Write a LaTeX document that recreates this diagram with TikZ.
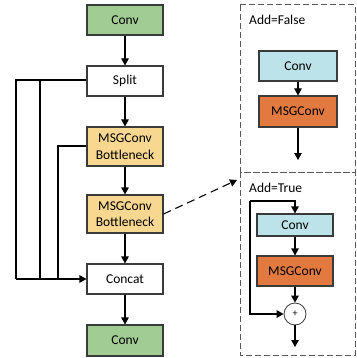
\documentclass[tikz,border=0pt]{standalone}
\usepackage{fontspec}
\setmainfont{Carlito}
\usetikzlibrary{arrows.meta}
\definecolor{cgreen}{HTML}{A1CC94}
\definecolor{cyellow}{HTML}{F8D891}
\definecolor{cblue}{HTML}{BDE3EA}
\definecolor{corange}{HTML}{E27A40}
\definecolor{cborder}{HTML}{3A3A3A}
\begin{document}
\begin{tikzpicture}[x=1pt,y=-1pt,
  box/.style={draw=cborder,line width=1.1pt,minimum width=76pt,inner sep=0pt,align=center,
    font=\fontsize{13.5}{16.5}\selectfont},
  arr/.style={line width=1.1pt,-{Triangle[length=7pt,width=7.5pt]}},
  ln/.style={line width=1.1pt},
  dbox/.style={draw=black!65,line width=1pt,dash pattern=on 6pt off 3pt},
  lbl/.style={anchor=west,inner sep=0pt,font=\fontsize{13.5}{16.5}\selectfont}]
\useasboundingbox (0,0) rectangle (356,358);
% left column
\node[box,fill=cgreen,minimum height=30pt] (conv1) at (125,20) {Conv};
\node[box,fill=white,minimum height=30pt] (split) at (125,81) {Split};
\node[box,fill=cyellow,minimum height=39pt] (bn1) at (125,146.5) {MSGConv\\Bottleneck};
\node[box,fill=cyellow,minimum height=38pt] (bn2) at (125,214) {MSGConv\\Bottleneck};
\node[box,fill=white,minimum height=30pt] (concat) at (125,279) {Concat};
\node[box,fill=cgreen,minimum height=31pt] (conv2) at (125,340.5) {Conv};
\draw[arr] (conv1) -- (split);
\draw[arr] (split) -- (bn1);
\draw[arr] (bn1) -- (bn2);
\draw[arr] (bn2) -- (concat);
\draw[arr] (concat) -- (conv2);
\coordinate (sA) at (16,80);
\coordinate (sB) at (40,80);
\coordinate (sC) at (58,146);
\draw[ln] (split.west |- sA) -- (sA) -- (sA |- concat.west);
\draw[ln] (sB) -- (sB |- concat.west);
\draw[ln] (bn1.west |- sC) -- (sC) -- (sC |- concat.west);
\draw[arr] (sA |- concat.west) -- (concat.west);
% dashed boxes
\draw[dbox] (240,5) rectangle (355,172);
\draw[dbox] (240,172) rectangle (355,355);
\node[lbl] (lf) at (249,20) {Add=False};
\node[lbl] (lt) at (249,188) {Add=True};
% box 1
\node[box,fill=cblue,minimum width=78pt,minimum height=30pt] (ca) at (298,66) {Conv};
\node[box,fill=corange,minimum width=78pt,minimum height=31pt] (ma) at (298,111.5) {MSGConv};
\coordinate (ea) at (298,160);
\draw[arr] (ca) -- (ma);
\draw[arr] (ma) -- (ea);
% box 2
\node[box,fill=cblue,minimum width=76pt,minimum height=22pt] (cb) at (295,225) {Conv};
\node[box,fill=corange,minimum width=76pt,minimum height=30pt] (mb) at (295,271) {MSGConv};
\node[draw=cborder,line width=0.8pt,circle,minimum size=22pt,inner sep=0pt,fill=white,font=\fontsize{10}{12}\selectfont] (plus) at (295,314) {+};
\coordinate (lL) at (250,201);
\coordinate (lT) at (295,201);
\coordinate (eb) at (295,347);
\draw[arr] (cb) -- (mb);
\draw[arr] (mb) -- (plus);
\draw[arr] (plus) -- (eb);
\draw[arr] (lL) -- (lT) -- (cb.north);
\draw[arr] (lL) -- (lL |- plus.west) -- (plus.west);
% dashed arrow
\coordinate (dt) at (237,180);
\draw[line width=1.1pt,dash pattern=on 8pt off 5pt,-{Triangle[length=7pt,width=7.5pt]}] (bn2.east) -- (dt);
\end{tikzpicture}
\end{document}
